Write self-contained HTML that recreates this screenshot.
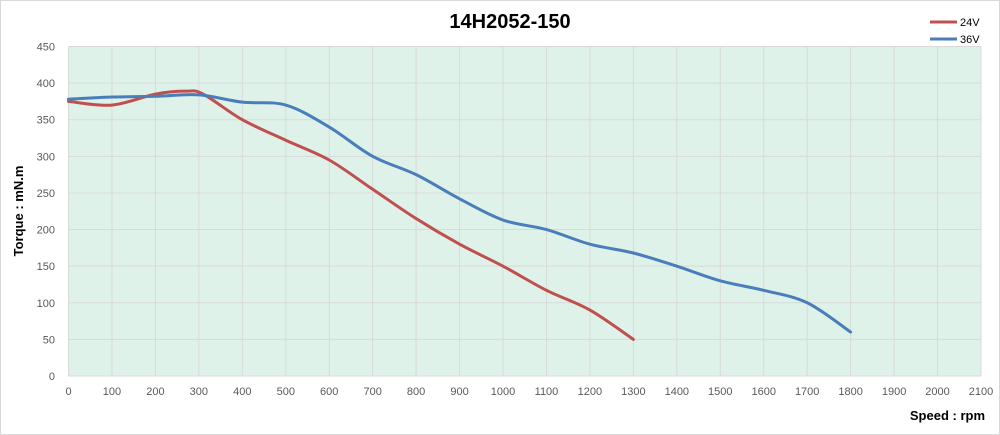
<!DOCTYPE html>
<html><head><meta charset="utf-8"><style>
html,body{margin:0;padding:0;background:#fff}
svg{display:block;font-family:"Liberation Sans",sans-serif}
</style></head><body>
<svg id="c" width="1000" height="435" viewBox="0 0 1000 435" xmlns="http://www.w3.org/2000/svg">
<rect x="0.5" y="0.5" width="999" height="434" fill="#fff" stroke="#d9d9d9"/>
<rect x="68.5" y="46.5" width="912.5" height="329.5" fill="#dff2ea"/>
<g id="grid" stroke="#d9d9d9" stroke-width="1"></g>
<g id="lab" font-size="11" fill="#595959"></g>
<text x="510" y="28" font-size="20" font-weight="bold" text-anchor="middle" fill="#000">14H2052-150</text>
<text x="23" y="211" font-size="13" font-weight="bold" text-anchor="middle" transform="rotate(-90 23 211)" fill="#000">Torque : mN.m</text>
<text x="985" y="420" font-size="13" font-weight="bold" text-anchor="end" fill="#000">Speed : rpm</text>
<line x1="930" y1="22" x2="957" y2="22" stroke="#c0504d" stroke-width="3"/>
<text x="960" y="26" font-size="11" fill="#000">24V</text>
<line x1="930" y1="39" x2="957" y2="39" stroke="#4a7ebb" stroke-width="3"/>
<text x="960" y="43" font-size="11" fill="#000">36V</text>
<path id="red" fill="none" stroke="#c0504d" stroke-width="3" stroke-linecap="round"/>
<path id="blue" fill="none" stroke="#4a7ebb" stroke-width="3" stroke-linecap="round"/>
</svg>
<script>
var X=function(v){return 68.5+v*0.43452},Y=function(t){return 376-t*0.7322};
var g=document.getElementById('grid'),l=document.getElementById('lab'),ns='http://www.w3.org/2000/svg';
function el(p,t,a,txt){var e=document.createElementNS(ns,t);for(var k in a)e.setAttribute(k,a[k]);if(txt!=null)e.textContent=txt;p.appendChild(e);}
for(var i=0;i<=21;i++){var x=X(i*100);el(g,'line',{x1:x,y1:46.5,x2:x,y2:376});el(l,'text',{x:x,y:395,'text-anchor':'middle'},i*100);}
for(var j=0;j<=9;j++){var y=Y(j*50);el(g,'line',{x1:68.5,y1:y,x2:981,y2:y});el(l,'text',{x:55,y:y+4,'text-anchor':'end'},j*50);}
function path(pts){var p=pts.map(function(a){return[X(a[0]),Y(a[1])]});var d='M'+p[0][0]+','+p[0][1];
for(var i=0;i<p.length-1;i++){var p0=p[i-1]||p[i],p1=p[i],p2=p[i+1],p3=p[i+2]||p2;
d+=' C'+(p1[0]+(p2[0]-p0[0])/6)+','+(p1[1]+(p2[1]-p0[1])/6)+' '+(p2[0]-(p3[0]-p1[0])/6)+','+(p2[1]-(p3[1]-p1[1])/6)+' '+p2[0]+','+p2[1];}return d;}
document.getElementById('red').setAttribute('d',path([[0,375],[100,370],[200,385],[270,389],[310,385],[400,350],[500,322],[600,295],[700,255],[800,215],[900,180],[1000,150],[1100,117],[1200,90],[1300,50]]));
document.getElementById('blue').setAttribute('d',path([[0,378],[100,381],[200,382],[300,384],[400,374],[500,370],[600,340],[700,300],[800,275],[900,242],[1000,213],[1100,200],[1200,180],[1300,168],[1400,150],[1500,130],[1600,117],[1700,100],[1800,60]]));
</script>
</body></html>
